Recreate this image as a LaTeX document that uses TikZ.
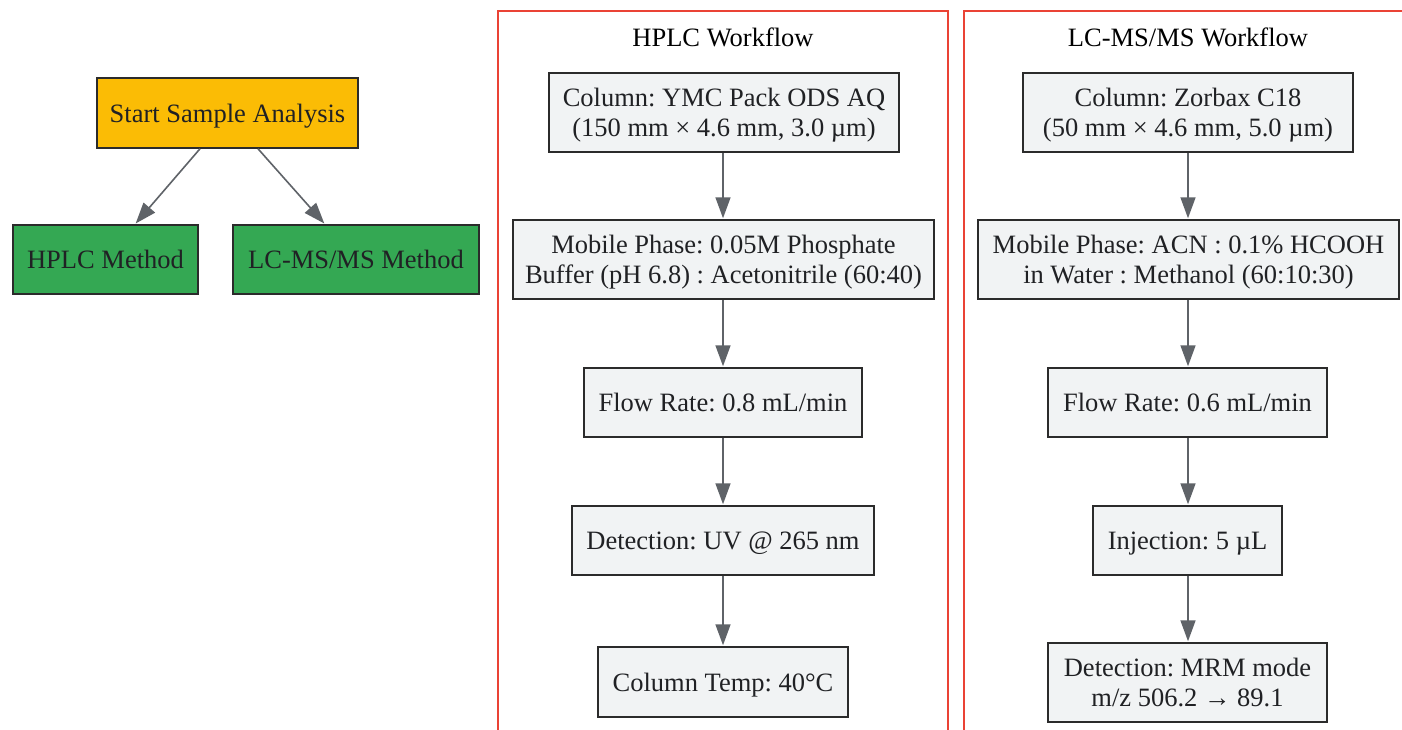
\documentclass[tikz,border=0pt]{standalone}
\usepackage{fontspec}
\setmainfont{Liberation Serif}
\frenchspacing
\usetikzlibrary{arrows.meta,calc}
\definecolor{startfill}{HTML}{FBBC05}
\definecolor{methfill}{HTML}{34A853}
\definecolor{boxfill}{HTML}{F1F3F4}
\definecolor{boxline}{HTML}{2B2B2B}
\definecolor{txt}{HTML}{202124}
\definecolor{edgecol}{HTML}{5F6368}
\definecolor{clustcol}{HTML}{EA4335}
\tikzset{
  base/.style={draw=boxline, line width=1.5pt, text=txt, align=center, inner sep=0pt,
    font=\fontsize{26.5}{30}\selectfont, text height=20pt, text depth=2pt},
  twoline/.style={text height=50pt, text depth=2pt},
  startbox/.style={base, fill=startfill},
  methbox/.style={base, fill=methfill},
  stepbox/.style={base, fill=boxfill},
  conn/.style={draw=edgecol, line width=1.6pt, -{Triangle[length=21pt,width=15pt]}, shorten >=1pt},
  cluster/.style={draw=clustcol, line width=1.5pt},
  ctitle/.style={text=black, font=\fontsize{26.5}{30}\selectfont, inner sep=0pt}
}
\begin{document}
\begin{tikzpicture}[x=1pt,y=-1pt]
\clip (0,0) rectangle (1402,729);
\fill[white] (0,0) rectangle (1402,729);
% clusters
\draw[cluster] (498,11) rectangle (948,760);
\draw[cluster] (964,11) rectangle (1430,760);
\node[ctitle] (t1) at (723,37) {HPLC Workflow};
\node[ctitle] (t2) at (1188,37) {LC-MS/MS Workflow};
% left part
\node[startbox, minimum width=261pt, minimum height=70pt] (start) at (227.5,113) {Start Sample Analysis};
\node[methbox, minimum width=185pt, minimum height=69pt] (hplc) at (105.5,259.5) {HPLC Method};
\node[methbox, minimum width=246pt, minimum height=69pt] (lcms) at (356,259.5) {LC-MS/MS Method};
\draw[conn] ($(start.south)+(-27.5,0)$) -- ($(hplc.north)+(29.5,0)$);
\draw[conn] ($(start.south)+(30.5,0)$) -- ($(lcms.north)+(-31,0)$);
% HPLC workflow
\node[stepbox, twoline, minimum width=350pt, minimum height=79pt] (h1) at (724,112.5) {Column: YMC Pack ODS AQ\\(150 mm × 4.6 mm, 3.0 µm)};
\node[stepbox, twoline, minimum width=421pt, minimum height=79pt] (h2) at (723.5,259.5) {Mobile Phase: 0.05M Phosphate\\Buffer (pH 6.8) : Acetonitrile (60:40)};
\node[stepbox, minimum width=278pt, minimum height=69pt] (h3) at (723,402.5) {Flow Rate: 0.8 mL/min};
\node[stepbox, minimum width=302pt, minimum height=69pt] (h4) at (723,540.5) {Detection: UV @ 265 nm};
\node[stepbox, minimum width=250pt, minimum height=70pt] (h5) at (723,682) {Column Temp: 40°C};
\draw[conn] (h1.south -| 723,0) -- (h2.north -| 723,0);
\draw[conn] (h2.south -| 723,0) -- (h3.north -| 723,0);
\draw[conn] (h3.south -| 723,0) -- (h4.north -| 723,0);
\draw[conn] (h4.south -| 723,0) -- (h5.north -| 723,0);
% LC-MS/MS workflow
\node[stepbox, twoline, minimum width=330pt, minimum height=79pt] (l1) at (1188,112.5) {Column: Zorbax C18\\(50 mm × 4.6 mm, 5.0 µm)};
\node[stepbox, twoline, minimum width=421pt, minimum height=79pt] (l2) at (1188.5,259.5) {Mobile Phase: ACN : 0.1\% HCOOH\\in Water : Methanol (60:10:30)};
\node[stepbox, minimum width=279pt, minimum height=69pt] (l3) at (1187.5,402.5) {Flow Rate: 0.6 mL/min};
\node[stepbox, minimum width=189pt, minimum height=69pt] (l4) at (1187.5,540.5) {Injection: 5 µL};
\node[stepbox, twoline, minimum width=279pt, minimum height=79pt] (l5) at (1187.5,682.5) {Detection: MRM mode\\m/z 506.2 → 89.1};
\draw[conn] (l1.south -| 1188,0) -- (l2.north -| 1188,0);
\draw[conn] (l2.south -| 1188,0) -- (l3.north -| 1188,0);
\draw[conn] (l3.south -| 1188,0) -- (l4.north -| 1188,0);
\draw[conn] (l4.south -| 1188,0) -- (l5.north -| 1188,0);
\end{tikzpicture}
\end{document}
